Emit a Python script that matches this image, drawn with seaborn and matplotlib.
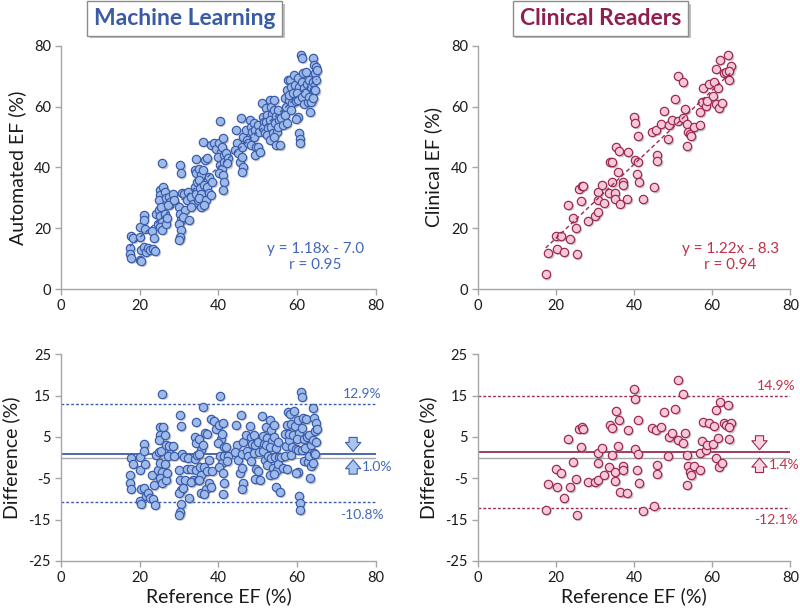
import matplotlib
matplotlib.use("Agg")
import matplotlib.pyplot as plt
import matplotlib.transforms as mtransforms
import matplotlib.patheffects as pe
import numpy as np
import seaborn as sns

sns.set_theme(style="white")
plt.rcParams["font.family"] = ["Lato", "DejaVu Sans"]

# machine learning vs reference EF (%)
ml_ref = [
    17.8, 17.6, 17.5, 17.7, 18.3,
    20.2, 20.0, 20.3, 20.1, 20.4,
    21.2, 21.0, 21.4, 21.1, 21.5,
    22.2, 22.6,
    23.2, 23.6, 23.4, 23.9,
    24.2, 24.6, 24.8,
    25.1, 25.3, 25.0, 25.4, 25.2, 25.6, 25.3, 25.7,
    25.8, 26.0,
    26.5, 26.7, 26.4, 26.8, 26.9,
    27.5, 27.8, 27.3,
    28.5, 28.8,
    30.3, 30.4, 30.0, 30.2, 30.5, 30.1, 30.6, 30.3, 30.0, 30.7,
    31.2, 31.4, 31.0,
    32.2, 32.5, 32.0,
    33.1, 33.5, 33.0,
    34.2, 34.0, 34.4, 34.1, 34.6, 34.3, 34.8,
    35.2, 35.5, 35.0, 35.4, 35.7, 35.1, 35.6,
    36.2, 36.5, 36.0, 36.4, 36.8, 36.3,
    37.2, 37.5, 37.0, 37.7,
    38.1, 38.4, 38.0,
    39.0, 39.3,
    40.3, 40.1, 40.6, 40.0, 40.4, 40.8, 40.2,
    41.2, 41.0, 41.5, 41.3, 41.1, 41.4, 41.2,
    42.0, 42.5, 42.2,
    44.5, 44.8, 44.3,
    45.1, 45.4,
    45.8, 46.2, 45.9, 46.0, 46.3, 46.1,
    47.0, 47.3, 47.6,
    48.0, 48.3, 48.6, 48.2,
    49.1, 49.4, 49.0, 49.6, 49.2,
    50.1, 50.4, 50.0, 50.5,
    51.0, 51.3, 51.6, 51.2, 51.8,
    52.1, 52.4, 52.0, 52.6, 52.3,
    53.0, 53.3, 53.6, 53.1, 53.4, 53.8, 53.2,
    54.2, 54.0, 54.5, 54.3, 54.8, 54.1, 54.6,
    55.1, 55.4, 55.0, 55.6,
    56.0, 56.4,
    57.0, 57.2, 56.9, 57.3,
    57.6, 57.5, 57.8,
    58.1, 58.4, 58.0, 58.6, 58.3,
    59.1, 59.4, 59.0, 59.6,
    60.2, 60.5, 60.0, 60.3, 60.1, 59.8, 60.4, 60.6, 60.7,
    61.0, 61.2, 61.4, 61.1, 61.6, 61.3, 61.8,
    62.2, 62.5, 62.0, 62.7,
    63.1, 63.4, 63.0, 63.6, 63.3,
    64.0, 64.2, 64.4, 63.9, 64.3, 64.1,
    64.7, 65.0, 64.8, 64.6,
]
ml_auto = [
    17.6, 13.5, 11.4, 10.2, 16.8,
    20.4, 17.1, 12.7, 9.7, 9.2,
    24.4, 22.7, 19.9, 13.8, 12.2,
    13.6, 12.9,
    19.0, 16.9, 13.3, 12.5,
    24.8, 21.5, 26.1,
    32.5, 30.9, 29.3, 27.0, 24.0, 22.1, 20.4, 19.5,
    41.3, 33.5,
    32.0, 29.8, 24.8, 21.5, 23.3,
    30.3, 28.7, 27.7,
    31.4, 29.3,
    40.7, 38.0, 27.0, 24.8, 22.6, 21.5, 19.3, 17.1, 16.2, 31.5,
    31.4, 26.0, 23.7,
    32.0, 22.7, 29.3,
    30.3, 28.1, 27.0,
    42.9, 39.0, 38.0, 33.7, 35.2, 31.4, 29.3,
    39.6, 37.4, 35.8, 33.2, 31.4, 29.8, 27.0,
    48.5, 42.5, 39.0, 34.1, 29.3, 27.5,
    43.0, 37.0, 33.7, 31.5,
    47.4, 35.2, 30.9,
    47.9, 46.2,
    55.3, 47.9, 45.1, 43.5, 40.7, 39.6, 38.0,
    49.6, 46.8, 44.0, 41.8, 37.4, 35.2, 32.5,
    44.6, 43.0, 41.3,
    52.4, 47.9, 45.7,
    44.6, 41.8,
    56.2, 50.1, 46.8, 43.5, 40.2, 38.5,
    52.4, 49.0, 47.9,
    55.6, 53.4, 51.8, 47.4,
    54.5, 52.4, 50.1, 46.8, 44.0,
    53.9, 51.8, 46.8, 45.1,
    61.1, 56.6, 55.0, 52.9, 51.3,
    59.4, 57.2, 55.0, 52.9, 50.6,
    62.1, 60.0, 57.7, 55.6, 53.4, 51.3, 49.0,
    62.2, 58.9, 56.8, 54.5, 51.7, 50.1, 47.4,
    58.9, 55.5, 53.4, 47.3,
    56.1, 54.0,
    62.7, 60.0, 57.2, 54.5,
    68.7, 65.4, 62.1,
    68.7, 66.5, 63.8, 61.1, 58.9,
    70.4, 67.1, 64.4, 61.7,
    69.3, 66.5, 64.4, 62.1, 56.6, 56.0, 51.2, 49.5, 48.0,
    77.0, 76.0, 71.0, 68.2, 66.0, 63.2, 61.0,
    71.5, 67.6, 64.4, 61.6,
    68.7, 66.5, 63.3, 61.6, 58.3,
    75.9, 73.7, 70.9, 68.2, 65.4, 62.8,
    73.1, 72.0, 68.7, 65.4,
]

# clinical readers vs reference EF (%)
cr_ref = [
    17.4, 18.1, 20.2, 22.0, 20.1, 21.3, 23.7, 23.2, 24.3, 25.1,
    25.3, 26.0, 26.6, 27.0, 26.5, 28.2, 30.1, 30.7, 30.8, 30.7,
    31.8, 32.4, 33.9, 34.5, 33.7, 34.5, 35.1, 35.2, 35.4, 36.2,
    35.8, 36.5, 37.2, 37.2, 38.4, 38.3, 40.1, 40.2, 40.3, 40.9,
    41.1, 40.7, 41.3, 42.3, 44.6, 45.7, 45.2, 45.9, 46.0, 46.9,
    47.6, 48.7, 49.0, 49.7, 50.6, 51.2, 51.3, 52.5, 52.6, 53.1,
    53.5, 53.6, 53.8, 54.4, 54.6, 55.3, 56.8, 57.0, 57.3, 57.6,
    58.3, 58.7, 59.2, 60.2, 60.5, 60.9, 61.0, 61.4, 61.7, 61.9,
    62.5, 62.9, 63.5, 64.1, 64.4, 64.9, 64.4,
]
cr_clin = [
    4.8, 11.8, 13.2, 12.2, 17.3, 17.5, 16.5, 27.7, 23.3, 20.0,
    11.4, 33.0, 34.0, 34.0, 29.0, 22.4, 24.1, 25.3, 31.9, 29.4,
    34.2, 28.3, 41.7, 41.7, 31.5, 35.1, 31.6, 29.6, 46.6, 45.3,
    38.6, 28.1, 35.1, 34.1, 45.1, 29.7, 56.7, 54.5, 42.4, 41.9,
    50.3, 37.8, 35.1, 29.5, 51.8, 52.4, 33.4, 44.2, 42.1, 54.3,
    58.7, 49.2, 53.9, 55.7, 62.4, 55.4, 70.2, 68.0, 56.1, 59.1,
    46.9, 54.2, 51.7, 50.9, 50.3, 53.2, 53.8, 58.2, 61.4, 66.2,
    60.2, 61.8, 67.5, 63.4, 68.1, 72.5, 60.9, 66.2, 59.5, 75.4,
    61.3, 71.2, 71.4, 76.9, 68.8, 73.4, 71.7,
]

panels = ["Machine Learning", "Clinical Readers"]
y_labels = ["Automated EF (%)", "Clinical EF (%)"]
fit_text = ["y = 1.18x - 7.0\nr = 0.95", "y = 1.22x - 8.3\nr = 0.94"]
bias = [1.0, 1.4]
loa_hi = [12.9, 14.9]
loa_lo = [-10.8, -12.1]

title_col = ["#3b5ba5", "#8e1f50"]
text_col = ["#4468b8", "#c23148"]
face_col = ["#9dbae9", "#f8c8d6"]
edge_col = ["#3c5dab", "#9a2b55"]
arrow_fc = ["#a9c5ee", "#fbd3dc"]

fig = plt.figure(figsize=(8, 6.11), dpi=100)
axes_top = [fig.add_axes([0.076, 0.527, 0.394, 0.398]),
            fig.add_axes([0.597, 0.527, 0.391, 0.398])]
axes_bot = [fig.add_axes([0.076, 0.082, 0.394, 0.338]),
            fig.add_axes([0.597, 0.082, 0.391, 0.338])]

shadow = mtransforms.ScaledTranslation(1.4 / 72, -1.4 / 72, fig.dpi_scale_trans)


def style(ax, ylim, yticks):
    ax.set_xlim(0, 80)
    ax.set_xticks([0, 20, 40, 60, 80])
    ax.set_ylim(*ylim)
    ax.set_yticks(yticks)
    for s in ["top", "right"]:
        ax.spines[s].set_visible(False)
    for s in ["left", "bottom"]:
        ax.spines[s].set_color("#a6a6a6")
        ax.spines[s].set_linewidth(1)
    ax.tick_params(direction="out", length=4, width=1, color="#a6a6a6",
                   labelsize=10.5, labelcolor="#1a1a1a", pad=3,
                   left=True, bottom=True)


def dots(ax, x, y, i):
    sns.scatterplot(x=x, y=y, ax=ax, color="#8a8a8a", edgecolor="none", s=36,
                    alpha=0.45, transform=ax.transData + shadow, legend=False, zorder=2)
    sns.scatterplot(x=x, y=y, ax=ax, color=face_col[i], edgecolor=edge_col[i],
                    linewidth=0.9, s=36, legend=False, zorder=3)


data = [(ml_ref, ml_auto), (cr_ref, cr_clin)]

for i, (ref, meas) in enumerate(data):
    ref = np.array(ref)
    meas = np.array(meas)
    diff = meas - ref

    # correlation panel
    ax = axes_top[i]
    dots(ax, ref, meas, i)
    sns.regplot(x=ref, y=meas, ax=ax, scatter=False, ci=None, truncate=True,
                line_kws=dict(color=edge_col[i], lw=1.0, ls=(0, (3, 2)), zorder=4))
    style(ax, (0, 80), [0, 20, 40, 60, 80])
    ax.set_xlabel("")
    ax.set_ylabel(y_labels[i], fontsize=14, color="#1a1a1a", labelpad=6)
    ax.text(64.6, 10.5, fit_text[i], ha="center", va="center", fontsize=11,
            color=text_col[i], linespacing=1.25)
    t = ax.text(0.392, 1.113, panels[i], transform=ax.transAxes, ha="center",
                va="center", fontsize=16.5, fontweight="bold", color=title_col[i],
                bbox=dict(boxstyle="square,pad=0.3", fc="white", ec="#8c8c8c", lw=1))
    t.get_bbox_patch().set_path_effects([pe.SimplePatchShadow(offset=(2, -2), alpha=0.35),
                                         pe.Normal()])

    # Bland-Altman panel
    ax = axes_bot[i]
    ax.axhline(0, color="#a6a6a6", lw=1, zorder=1)
    ax.axhline(bias[i], color=edge_col[i], lw=1.3, zorder=1)
    ax.axhline(loa_hi[i], color=edge_col[i], lw=1, ls=(0, (2, 1.5)), zorder=1)
    ax.axhline(loa_lo[i], color=edge_col[i], lw=1, ls=(0, (2, 1.5)), zorder=1)
    dots(ax, ref, diff, i)
    style(ax, (-25, 25), [-25, -15, -5, 5, 15, 25])
    ax.set_yticklabels(["-25", "-15", "-5", "5", "15", "25"])
    ax.set_xlabel("Reference EF (%)", fontsize=14, color="#1a1a1a", labelpad=2)
    ax.set_ylabel("Difference (%)", fontsize=14, color="#1a1a1a", labelpad=6)
    ax.text(76.4, loa_hi[i] + 2.4, f"{loa_hi[i]:.1f}%", ha="center", va="center",
            fontsize=10, color=text_col[i])
    ax.text(76.4, loa_lo[i] - 3.0, f"{loa_lo[i]:.1f}%", ha="center", va="center",
            fontsize=10, color=text_col[i])
    ax_x = 74.2 if i == 0 else 72.1
    arrow = dict(arrowstyle="simple,head_length=0.5,head_width=0.85,tail_width=0.45",
                 fc=arrow_fc[i], ec=edge_col[i], lw=0.8, mutation_scale=13,
                 shrinkA=0, shrinkB=0)
    ax.annotate("", xy=(ax_x, bias[i] + 0.5), xytext=(ax_x, bias[i] + 3.9),
                arrowprops=arrow, annotation_clip=False)
    ax.annotate("", xy=(ax_x, bias[i] - 1.5), xytext=(ax_x, bias[i] - 5.0),
                arrowprops=arrow, annotation_clip=False)
    ax.text(ax_x + 2.3, bias[i] - 3.3, f"{bias[i]:.1f}%", ha="left", va="center",
            fontsize=10, color=text_col[i])

fig.savefig("out.png", dpi=100, facecolor="white")
